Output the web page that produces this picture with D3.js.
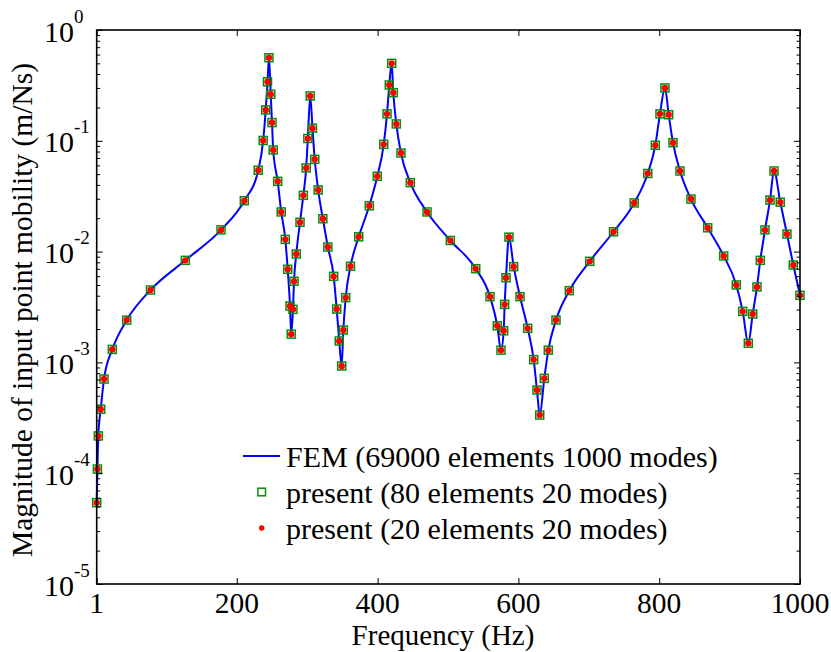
<!DOCTYPE html>
<html>
<head>
<meta charset="utf-8">
<script src="https://cdn.jsdelivr.net/npm/d3@7"></script>
</head>
<body style="margin:0">
<svg id="chart" width="831" height="652"></svg>
<script>
// ---------------- data ----------------
const frequency = [1, 2, 3.3, 6.7, 11.4, 23.2, 43.6, 77.4, 126.9, 177.6, 210.7,
  230.5, 237.5, 241.1, 243.6, 245.7, 248.2, 250, 251.7, 258.1, 263.1, 268.9, 272.3,
  275.6, 277.3, 279.8, 281.3, 284.5, 289.8, 294.5, 298.6, 300.9, 304.3, 307.5, 310.7,
  315.6, 322.2, 329.3, 337.6, 341.9, 345.5, 349, 351.3, 354.7, 361.5, 373.2, 388.2,
  399.6, 408.7, 413.4, 416.6, 420, 422.3, 426.6, 433.2, 446.5, 470.2, 503.3, 539.4,
  559.7, 570, 575.3, 579.1, 580.5, 582.4, 586.6, 593.3, 602.3, 613.2, 621.7, 626.4,
  630.3, 636.8, 642.5, 653.4, 672.3, 701.3, 735.1, 764.5, 783.7, 794.5, 801.1, 808.2,
  813.5, 819.6, 829.5, 845.1, 868.9, 891.6, 909.5, 918.6, 926.6, 932.8, 938.9, 943.6,
  950.3, 957.4, 963.1, 972, 981.5, 990.5, 1000];

const femMag = [5.42e-5, 1.09e-4, 2.17e-4, 3.78e-4, 7.08e-4, 1.31e-3, 2.41e-3, 4.50e-3, 8.34e-3, 1.57e-2, 2.88e-2,
  5.42e-2, 0.1007, 0.190, 0.341, 0.562, 0.263, 0.146, 0.0826, 0.0431, 0.0228, 0.0129, 6.92e-3,
  3.23e-3, 1.80e-3, 3.01e-3, 5.40e-3, 9.51e-3, 1.84e-2, 3.22e-2, 5.69e-2, 0.105, 0.254, 0.130, 0.0681,
  0.0360, 0.0198, 0.0110, 5.98e-3, 3.03e-3, 1.56e-3, 9.29e-4, 1.96e-3, 3.84e-3, 7.37e-3, 1.36e-2, 2.59e-2,
  4.78e-2, 0.0929, 0.175, 0.319, 0.500, 0.272, 0.142, 0.0776, 0.0419, 0.0228, 0.0126, 7.01e-3,
  3.92e-3, 2.14e-3, 1.29e-3, 1.93e-3, 3.34e-3, 5.81e-3, 1.35e-2, 7.31e-3, 3.92e-3, 2.03e-3, 1.06e-3, 5.63e-4,
  3.35e-4, 7.18e-4, 1.29e-3, 2.41e-3, 4.44e-3, 8.17e-3, 1.51e-2, 2.75e-2, 5.07e-2, 0.0911, 0.175, 0.300,
  0.172, 0.0962, 0.0534, 0.0298, 0.0164, 9.13e-3, 5.00e-3, 2.89e-3, 1.49e-3, 2.73e-3, 4.80e-3, 8.34e-3,
  1.57e-2, 2.92e-2, 0.0534, 0.0279, 0.0144, 7.57e-3, 4.03e-3];

// the two "present" models coincide with FEM at every plotted frequency
const present80Mag = femMag;
const present20Mag = femMag;

const xTickValues = [1, 200, 400, 600, 800, 1000];
const xTickLabels = ["1", "200", "400", "600", "800", "1000"];
const yDecades = [1e-5, 1e-4, 1e-3, 1e-2, 1e-1, 1e0];
const yDecadeExponents = ["-5", "-4", "-3", "-2", "-1", "0"];

const seriesNames = [
  "FEM (69000 elements 1000 modes)",
  "present (80 elements 20 modes)",
  "present (20 elements 20 modes)"
];
const xTitle = "Frequency (Hz)";
const yTitle = "Magnitude of input point mobility (m/Ns)";

// ---------------- layout ----------------
const SERIF = "Liberation Serif";
const L = 96.7, R = 800, T = 30, B = 584;
const svg = d3.select("#chart");

const x = d3.scaleLinear().domain([1, 1000]).range([L, R]);
const y = d3.scaleLog().domain([1e-5, 1]).range([B, T]);

const FONT = 30;
const serif = (sel, size) => sel
  .attr("font-family", SERIF).attr("font-size", size).attr("fill", "#000")
  .style("font-family", '"Liberation Serif"').style("font-size", size + "px");

// ---------------- data marks ----------------
const pts = frequency.map((f, i) => ({ f, fem: femMag[i], p80: present80Mag[i], p20: present20Mag[i] }));

const line = d3.line()
  .x(d => x(d.f))
  .y(d => y(d.fem))
  .curve(d3.curveMonotoneX);

svg.append("path")
  .datum(pts)
  .attr("d", line)
  .attr("fill", "none")
  .attr("stroke", "#0000ff")
  .attr("stroke-width", 2)
  .attr("stroke-linejoin", "round");

const SQ = 8;
svg.append("g").selectAll("rect")
  .data(pts).join("rect")
  .attr("x", d => x(d.f) - SQ / 2)
  .attr("y", d => y(d.p80) - SQ / 2)
  .attr("width", SQ).attr("height", SQ)
  .attr("fill", "none")
  .attr("stroke", "#0a8a0a")
  .attr("stroke-width", 1.5);

svg.append("g").selectAll("circle")
  .data(pts).join("circle")
  .attr("cx", d => x(d.f))
  .attr("cy", d => y(d.p20))
  .attr("r", 3.2)
  .attr("fill", "#ff0000");

// ---------------- axes ----------------
const xAxisB = d3.axisBottom(x).tickValues(xTickValues).tickSizeInner(-6).tickSizeOuter(0).tickFormat("");
const gxB = svg.append("g").attr("transform", `translate(0,${B})`).call(xAxisB);
gxB.select(".domain").remove();
gxB.selectAll(".tick line").attr("stroke", "#000");

const xAxisT = d3.axisTop(x).tickValues(xTickValues).tickSizeInner(-6).tickSizeOuter(0).tickFormat("");
const gxT = svg.append("g").attr("transform", `translate(0,${T})`).call(xAxisT);
gxT.select(".domain").remove();
gxT.selectAll(".tick line").attr("stroke", "#000");

const xl = svg.append("g");
xTickValues.forEach((v, i) => {
  xl.append("text")
    .attr("x", x(v)).attr("y", B + 28.5)
    .attr("text-anchor", "middle")
    .call(serif, 29.5)
    .text(xTickLabels[i]);
});

const allYTicks = y.ticks();
const isDecade = v => Math.abs(Math.log10(v) - Math.round(Math.log10(v))) < 1e-9;

const yAxisL = d3.axisLeft(y).tickValues(allYTicks).tickSizeOuter(0).tickFormat("").tickSizeInner(-3.5);
const gyL = svg.append("g").attr("transform", `translate(${L},0)`).call(yAxisL);
gyL.select(".domain").remove();
gyL.selectAll(".tick line")
  .attr("stroke", "#000")
  .attr("x2", d => isDecade(d) ? 6 : 3.5);

const yAxisR = d3.axisRight(y).tickValues(allYTicks).tickSizeOuter(0).tickFormat("").tickSizeInner(-3.5);
const gyR = svg.append("g").attr("transform", `translate(${R},0)`).call(yAxisR);
gyR.select(".domain").remove();
gyR.selectAll(".tick line")
  .attr("stroke", "#000")
  .attr("x2", d => isDecade(d) ? -6 : -3.5);

// y decade labels with superscripts
const yl = svg.append("g");
yDecades.forEach((v, i) => {
  const t = yl.append("text")
    .attr("x", 44)
    .attr("y", y(v) + 11.5)
    .call(serif, FONT);
  t.append("tspan").text("10");
  t.append("tspan")
    .call(serif, 19)
    .attr("dy", -19)
    .text(yDecadeExponents[i]);
});

// frame
svg.append("rect")
  .attr("x", L).attr("y", T)
  .attr("width", R - L).attr("height", B - T)
  .attr("fill", "none")
  .attr("stroke", "#000")
  .attr("stroke-width", 1.6);

// titles
svg.append("text")
  .attr("x", 443).attr("y", 645)
  .attr("text-anchor", "middle")
  .call(serif, 29)
  .text(xTitle);

svg.append("text")
  .attr("transform", "translate(32,310) rotate(-90)")
  .attr("text-anchor", "middle")
  .call(serif, 29.5)
  .text(yTitle);

// ---------------- legend ----------------
const lg = svg.append("g");
const rowY = [456, 492, 528];
lg.append("line")
  .attr("x1", 243).attr("x2", 280)
  .attr("y1", rowY[0]).attr("y2", rowY[0])
  .attr("stroke", "#0000ff").attr("stroke-width", 2);
lg.append("rect")
  .attr("x", 261.7 - 3.8).attr("y", rowY[1] - 3.8)
  .attr("width", 7.6).attr("height", 7.6)
  .attr("fill", "none").attr("stroke", "#0a8a0a").attr("stroke-width", 1.5);
lg.append("circle")
  .attr("cx", 261.7).attr("cy", rowY[2]).attr("r", 2.7)
  .attr("fill", "#ff0000");
seriesNames.forEach((s, i) => {
  lg.append("text")
    .attr("x", 286)
    .attr("y", rowY[i] + 11)
    .call(serif, FONT)
    .text(s);
});
</script>
</body>
</html>
